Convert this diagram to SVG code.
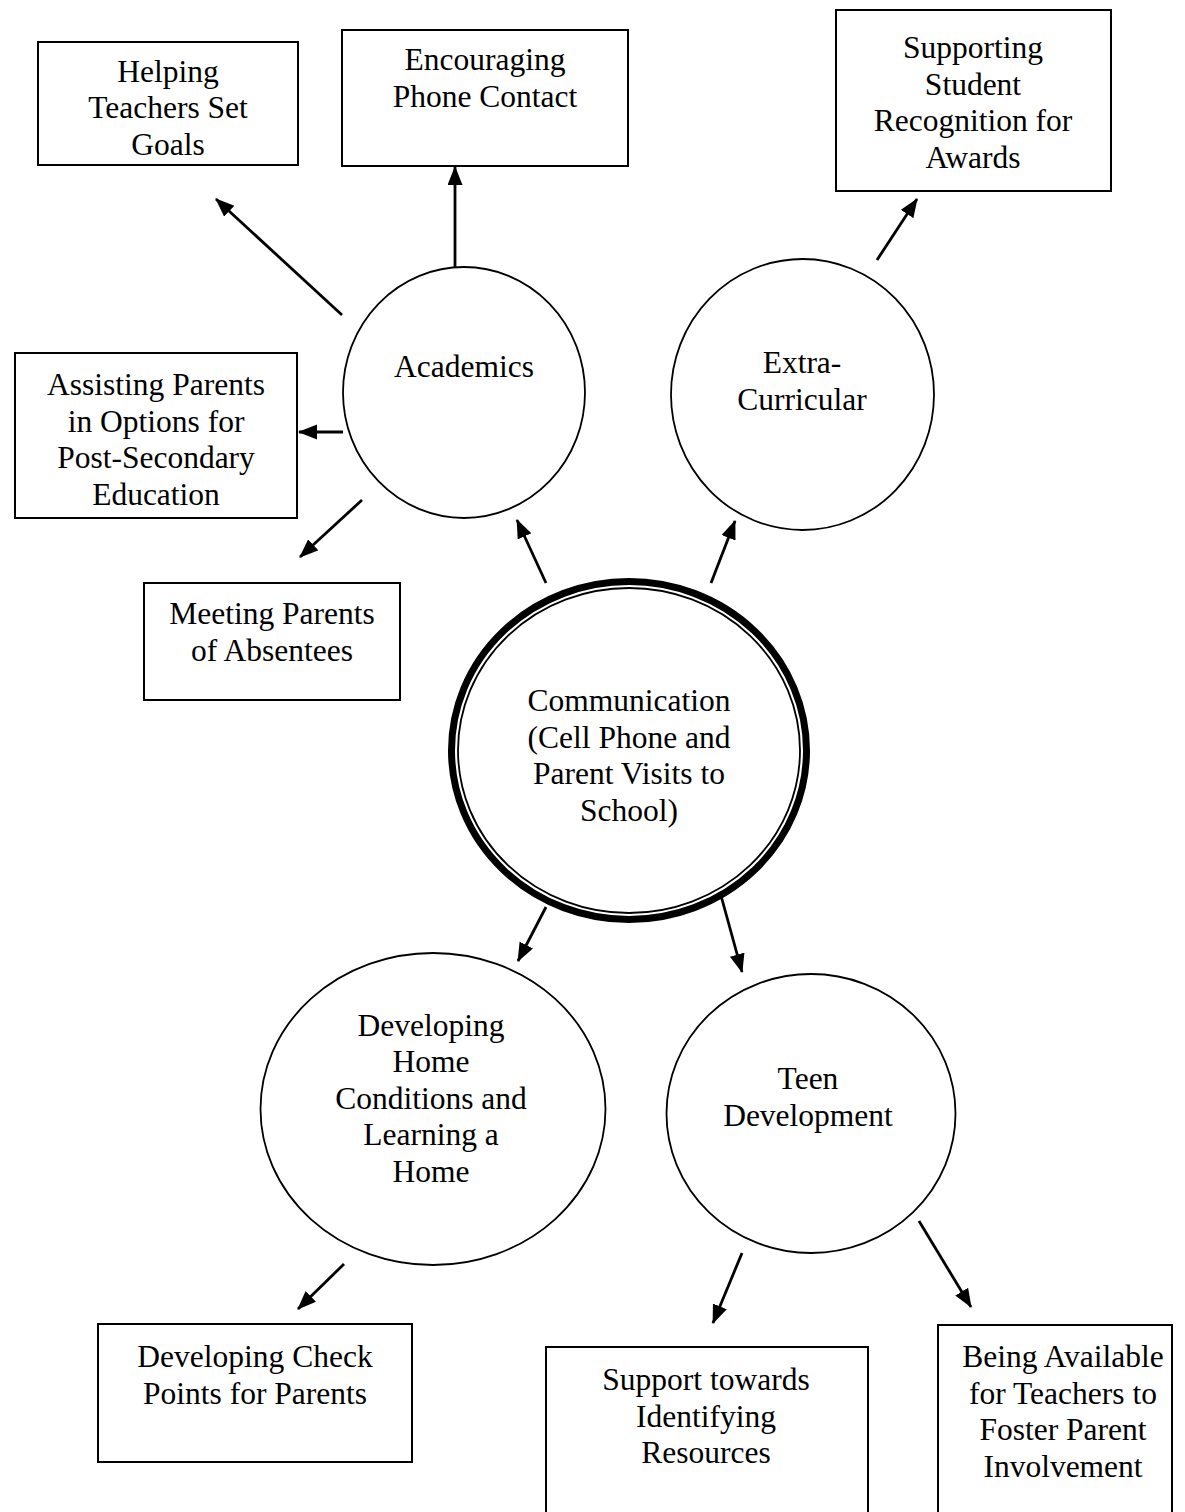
<svg xmlns="http://www.w3.org/2000/svg" width="1185" height="1512" viewBox="0 0 1185 1512">
  <style>
    .box { fill: #fff; stroke: #000; stroke-width: 2; }
    .oval { fill: #fff; stroke: #000; stroke-width: 1.8; }
    .lbl { font-family: "Liberation Serif", "Times New Roman", serif; font-size: 31.5px; fill: #000; text-anchor: middle; }
    .arrow { stroke: #000; stroke-width: 2.8; fill: none; marker-end: url(#head); }
  </style>
  <defs>
    <marker id="head" markerUnits="userSpaceOnUse" markerWidth="20" markerHeight="16" refX="18" refY="7.5" orient="auto">
      <path d="M0,0 L19,7.5 L0,15 z" fill="#000"/>
    </marker>
  </defs>
  <rect width="1185" height="1512" fill="#fff"/>

  <!-- hub -->
  <g id="communication">
    <ellipse cx="629" cy="750.5" rx="177.5" ry="169" fill="#fff" stroke="#000" stroke-width="7"/>
    <ellipse cx="629" cy="750.5" rx="171" ry="162.5" fill="none" stroke="#000" stroke-width="1.8"/>
    <text class="lbl"><tspan x="629" y="711">Communication</tspan><tspan x="629" y="747.5">(Cell Phone and</tspan><tspan x="629" y="784">Parent Visits to</tspan><tspan x="629" y="820.5">School)</tspan></text>
  </g>

  <!-- second-level ovals -->
  <g id="academics">
    <ellipse class="oval" cx="464" cy="392.5" rx="121" ry="125.5"/>
    <text class="lbl" x="464" y="377">Academics</text>
  </g>
  <g id="extra-curricular">
    <ellipse class="oval" cx="802.5" cy="394.5" rx="131.5" ry="135.5"/>
    <text class="lbl"><tspan x="802" y="373">Extra-</tspan><tspan x="802" y="409.5">Curricular</tspan></text>
  </g>
  <g id="home-conditions">
    <ellipse class="oval" cx="433" cy="1109" rx="172.5" ry="156"/>
    <text class="lbl"><tspan x="431" y="1035.5">Developing</tspan><tspan x="431" y="1072">Home</tspan><tspan x="431" y="1108.5">Conditions and</tspan><tspan x="431" y="1145">Learning a</tspan><tspan x="431" y="1181.5">Home</tspan></text>
  </g>
  <g id="teen-development">
    <ellipse class="oval" cx="811" cy="1113.5" rx="144.5" ry="139.5"/>
    <text class="lbl"><tspan x="808" y="1089">Teen</tspan><tspan x="808" y="1125.5">Development</tspan></text>
  </g>

  <!-- leaf boxes -->
  <g id="helping-teachers">
    <rect class="box" x="38" y="42" width="260" height="123"/>
    <text class="lbl"><tspan x="168" y="81.5">Helping</tspan><tspan x="168" y="118">Teachers Set</tspan><tspan x="168" y="154.5">Goals</tspan></text>
  </g>
  <g id="phone-contact">
    <rect class="box" x="342" y="30" width="286" height="136"/>
    <text class="lbl"><tspan x="485" y="70">Encouraging</tspan><tspan x="485" y="106.5">Phone Contact</tspan></text>
  </g>
  <g id="student-recognition">
    <rect class="box" x="836" y="10" width="275" height="181"/>
    <text class="lbl"><tspan x="973" y="58">Supporting</tspan><tspan x="973" y="94.5">Student</tspan><tspan x="973" y="131">Recognition for</tspan><tspan x="973" y="167.5">Awards</tspan></text>
  </g>
  <g id="post-secondary">
    <rect class="box" x="15" y="353" width="282" height="165"/>
    <text class="lbl"><tspan x="156" y="395">Assisting Parents</tspan><tspan x="156" y="431.5">in Options for</tspan><tspan x="156" y="468">Post-Secondary</tspan><tspan x="156" y="504.5">Education</tspan></text>
  </g>
  <g id="absentees">
    <rect class="box" x="144" y="583" width="256" height="117"/>
    <text class="lbl"><tspan x="272" y="624">Meeting Parents</tspan><tspan x="272" y="660.5">of Absentees</tspan></text>
  </g>
  <g id="check-points">
    <rect class="box" x="98" y="1324" width="314" height="138"/>
    <text class="lbl"><tspan x="255" y="1367">Developing Check</tspan><tspan x="255" y="1403.5">Points for Parents</tspan></text>
  </g>
  <g id="identifying-resources">
    <rect class="box" x="546" y="1347" width="322" height="190"/>
    <text class="lbl"><tspan x="706" y="1390">Support towards</tspan><tspan x="706" y="1426.5">Identifying</tspan><tspan x="706" y="1463">Resources</tspan></text>
  </g>
  <g id="parent-involvement">
    <rect class="box" x="938" y="1325" width="234" height="210"/>
    <text class="lbl"><tspan x="1063" y="1367">Being Available</tspan><tspan x="1063" y="1403.5">for Teachers to</tspan><tspan x="1063" y="1440">Foster Parent</tspan><tspan x="1063" y="1476.5">Involvement</tspan></text>
  </g>

  <!-- connectors -->
  <g id="connectors">
    <line class="arrow" x1="342" y1="315" x2="216" y2="199"/>
    <line class="arrow" x1="455" y1="267" x2="455" y2="167"/>
    <line class="arrow" x1="343" y1="432" x2="299" y2="432"/>
    <line class="arrow" x1="362" y1="500" x2="300" y2="557"/>
    <line class="arrow" x1="546" y1="583" x2="517" y2="520"/>
    <line class="arrow" x1="711" y1="583" x2="735" y2="521"/>
    <line class="arrow" x1="877" y1="260" x2="917" y2="199"/>
    <line class="arrow" x1="546" y1="907" x2="518" y2="961"/>
    <line class="arrow" x1="720" y1="892" x2="742" y2="972"/>
    <line class="arrow" x1="344" y1="1264" x2="298" y2="1309"/>
    <line class="arrow" x1="742" y1="1253" x2="713" y2="1323"/>
    <line class="arrow" x1="919" y1="1221" x2="971" y2="1307"/>
  </g>
</svg>
